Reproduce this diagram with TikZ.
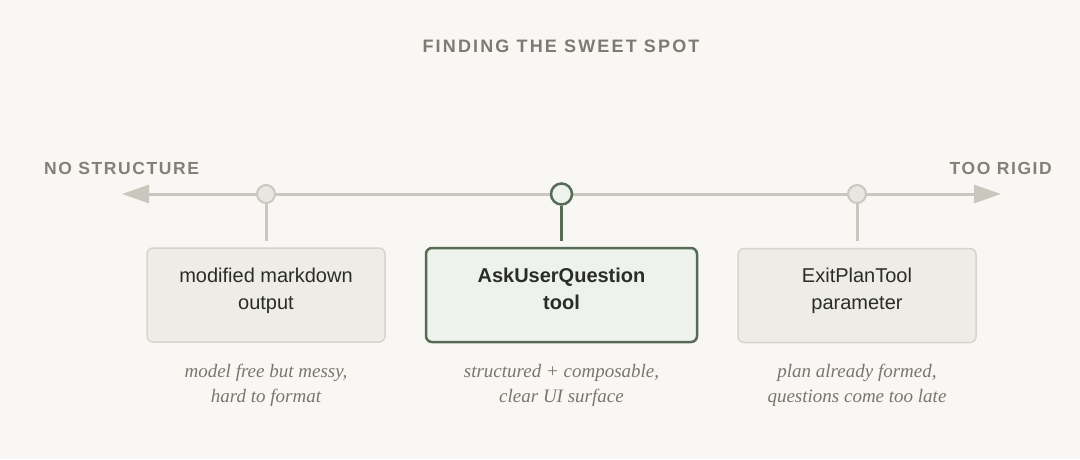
\documentclass[tikz,border=0pt]{standalone}
\usepackage{fontspec}
\setmainfont{Liberation Sans}
\newfontfamily\headfont[LetterSpace=12]{Liberation Sans}
\newfontfamily\endfont[LetterSpace=9]{Liberation Sans}
\newfontfamily\capfont{Liberation Serif}
\usetikzlibrary{arrows.meta}
\definecolor{bg}{HTML}{F8F7F3}
\definecolor{axis}{HTML}{CAC8BE}
\definecolor{dotfill}{HTML}{E8E6E0}
\definecolor{boxfill}{HTML}{EEECE6}
\definecolor{boxline}{HTML}{D6D4CC}
\definecolor{green}{HTML}{566B55}
\definecolor{greenfill}{HTML}{EEF2EC}
\definecolor{headgray}{HTML}{7B7B73}
\definecolor{endgray}{HTML}{818178}
\definecolor{ink}{HTML}{2B2B28}
\definecolor{capgray}{HTML}{77776E}
\tikzset{
  sidebox/.style={draw=boxline, line width=1.5pt, fill=boxfill, rounded corners=6pt},
  midbox/.style={draw=green, line width=2.5pt, fill=greenfill, rounded corners=6pt},
  sidedot/.style={circle, draw=axis, line width=2pt, fill=dotfill, minimum size=18pt, inner sep=0pt},
  middot/.style={circle, draw=green, line width=2.5pt, fill=greenfill, minimum size=21pt, inner sep=0pt},
  sidestem/.style={draw=axis, line width=3pt},
  midstem/.style={draw=green, line width=3pt},
  boxtext/.style={anchor=base, align=center, inner sep=0pt, text=ink, font=\fontsize{20}{27}\selectfont},
  captext/.style={anchor=base, align=center, inner sep=0pt, text=capgray, font=\capfont\itshape\fontsize{19}{25}\selectfont},
  endtext/.style={anchor=base, inner sep=0pt, text=endgray, font=\endfont\bfseries\fontsize{17.5}{20}\selectfont},
}
\begin{document}
\begin{tikzpicture}[x=1pt, y=-1pt]
\useasboundingbox[fill=bg] (0,0) rectangle (1080,459);
% title
\node[anchor=base, inner sep=0pt, text=headgray, font=\headfont\bfseries\fontsize{18}{20}\selectfont] (title) at (561,52) {FINDING THE SWEET SPOT};
% end labels
\node[endtext, anchor=base west] (left) at (44,174) {NO STRUCTURE};
\node[endtext, anchor=base east] (right) at (1052,174) {TOO RIGID};
% axis
\coordinate (ltip) at (122,194);
\coordinate (rtip) at (1001,194);
\draw[draw=axis, line width=3pt, {Triangle[length=27pt,width=18pt,fill=axis]}-{Triangle[length=27pt,width=18pt,fill=axis]}] (ltip) -- (rtip);
% boxes
\node[sidebox, minimum width=238pt, minimum height=94pt] (b1) at (266,295) {};
\node[midbox, minimum width=271pt, minimum height=94pt] (b2) at (561.5,295) {};
\node[sidebox, minimum width=238pt, minimum height=94pt] (b3) at (857,295.5) {};
% dots
\node[sidedot] (d1) at (266,194) {};
\node[middot] (d2) at (561.5,194) {};
\node[sidedot] (d3) at (857,194) {};
% stems
\coordinate (s1) at (266,241);
\coordinate (s2) at (561.5,241);
\coordinate (s3) at (857,241);
\draw[sidestem] (d1.south) -- (s1);
\draw[midstem] (d2.south) -- (s2);
\draw[sidestem] (d3.south) -- (s3);
% box texts (base anchor = baseline of last line)
\node[boxtext] (t1) at (266,309) {modified markdown\\output};
\node[boxtext, font=\bfseries\fontsize{20}{27}\selectfont] (t2) at (561.5,309) {AskUserQuestion\\tool};
\node[boxtext] (t3) at (857,309) {ExitPlanTool\\parameter};
% captions
\node[captext] (c1) at (266,402) {model free but messy,\\hard to format};
\node[captext] (c2) at (561.5,402) {structured + composable,\\clear UI surface};
\node[captext] (c3) at (857,402) {plan already formed,\\questions come too late};
\end{tikzpicture}
\end{document}
